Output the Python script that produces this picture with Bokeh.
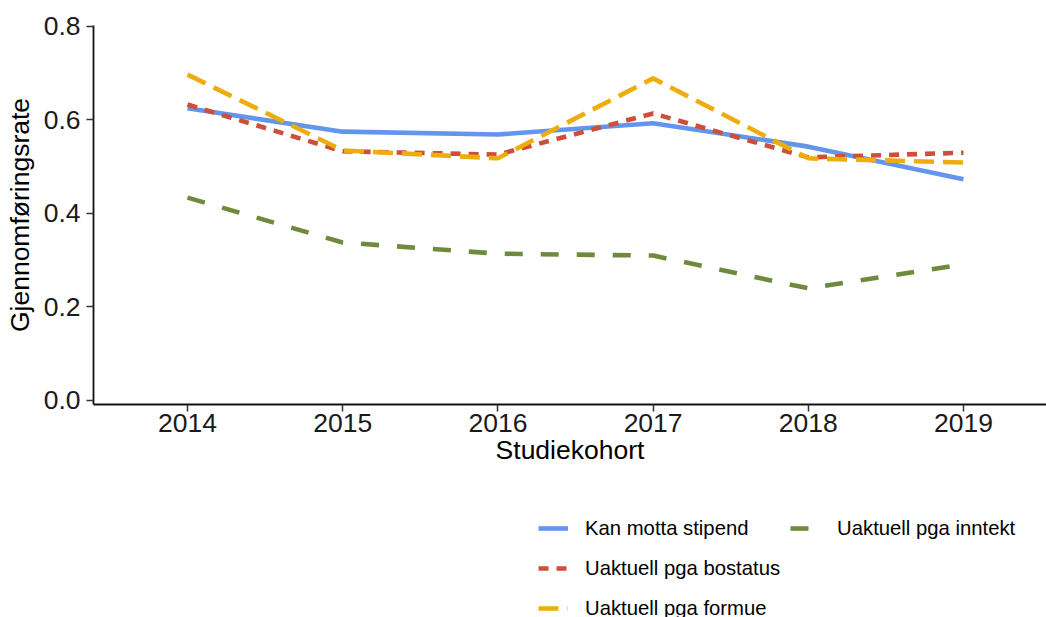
from bokeh.plotting import figure
from bokeh.layouts import column
from bokeh.models import Legend, LegendItem, FixedTicker, PrintfTickFormatter, Range1d
from bokeh.embed import file_html
from bokeh.resources import INLINE

years = [2014, 2015, 2016, 2017, 2018, 2019]
kan_motta = [0.625, 0.575, 0.569, 0.593, 0.543, 0.473]
bostatus = [0.633, 0.533, 0.526, 0.614, 0.520, 0.530]
formue = [0.697, 0.535, 0.518, 0.689, 0.518, 0.509]
inntekt = [0.434, 0.338, 0.314, 0.310, 0.240, 0.291]
series_names = ["Kan motta stipend", "Uaktuell pga bostatus", "Uaktuell pga formue", "Uaktuell pga inntekt"]
y_ticks = [0.0, 0.2, 0.4, 0.6, 0.8]

FONT = "Liberation Sans"
colors = ["#6495ED", "#CD4F39", "#EEAD0E", "#6E8B3D"]
dashes = ["solid", "10 8", "20 9", "18 18"]

p = figure(width=1046, height=490, output_backend="svg", toolbar_location=None, title=None,
           x_range=Range1d(2013.3943, 2019.5348), y_range=Range1d(-0.00856, 0.8021),
           min_border_left=93, min_border_right=0, min_border_top=25, min_border_bottom=86)
p.outline_line_color = None
p.xgrid.visible = False
p.ygrid.visible = False
p.background_fill_color = "white"
p.border_fill_color = "white"

data = [kan_motta, bostatus, formue, inntekt]
for vals, c, d in zip(data, colors, dashes):
    p.line(years, vals, line_color=c, line_width=4.6, line_dash=d)

for ax in (p.xaxis[0], p.yaxis[0]):
    ax.axis_line_color = "#111111"
    ax.axis_line_width = 1.8
    ax.major_tick_line_color = "#333333"
    ax.major_tick_line_width = 1.5
    ax.major_tick_out = 7
    ax.major_tick_in = 0
    ax.minor_tick_line_color = None
    ax.major_label_text_font = FONT
    ax.major_label_text_font_size = "26.5px"
    ax.major_label_text_color = "#1A1A1A"
    ax.axis_label_text_font = FONT
    ax.axis_label_text_font_size = "26.5px"
    ax.axis_label_text_font_style = "normal"
    ax.axis_label_text_color = "#000000"

p.xaxis.ticker = FixedTicker(ticks=years)
p.xaxis.axis_label = "Studiekohort"
p.xaxis.major_label_standoff = 2
p.xaxis.axis_label_standoff = 0

p.yaxis.ticker = FixedTicker(ticks=y_ticks)
p.yaxis.formatter = PrintfTickFormatter(format="%.1f")
p.yaxis.axis_label = "Gjennomføringsrate"
p.yaxis.major_label_standoff = 6
p.yaxis.axis_label_standoff = 6

# legend strip below the chart (its lines lie outside its view; only the legend shows)
lg = figure(width=1046, height=127, output_backend="svg", toolbar_location=None, title=None,
            x_axis_type=None, y_axis_type=None, min_border=0,
            x_range=Range1d(0, 1), y_range=Range1d(0, 1))
lg.outline_line_color = None
lg.xgrid.visible = False
lg.ygrid.visible = False
items = []
for name, vals, c, d in zip(series_names, data, colors, dashes):
    r = lg.line(years, vals, line_color=c, line_width=4.6, line_dash=d)
    items.append(LegendItem(label=name, renderers=[r]))

legend = Legend(items=items, location=(445, -6), nrows=3, orientation="vertical",
                padding=0, margin=0, border_line_color=None, background_fill_alpha=0,
                label_text_font=FONT, label_text_font_size="20.3px", label_text_color="#000000",
                glyph_width=30, glyph_height=30, label_height=30, spacing=10, label_standoff=17)
lg.add_layout(legend, "center")

layout = column(p, lg, spacing=0)
open("out.html", "w").write(file_html(layout, INLINE))
